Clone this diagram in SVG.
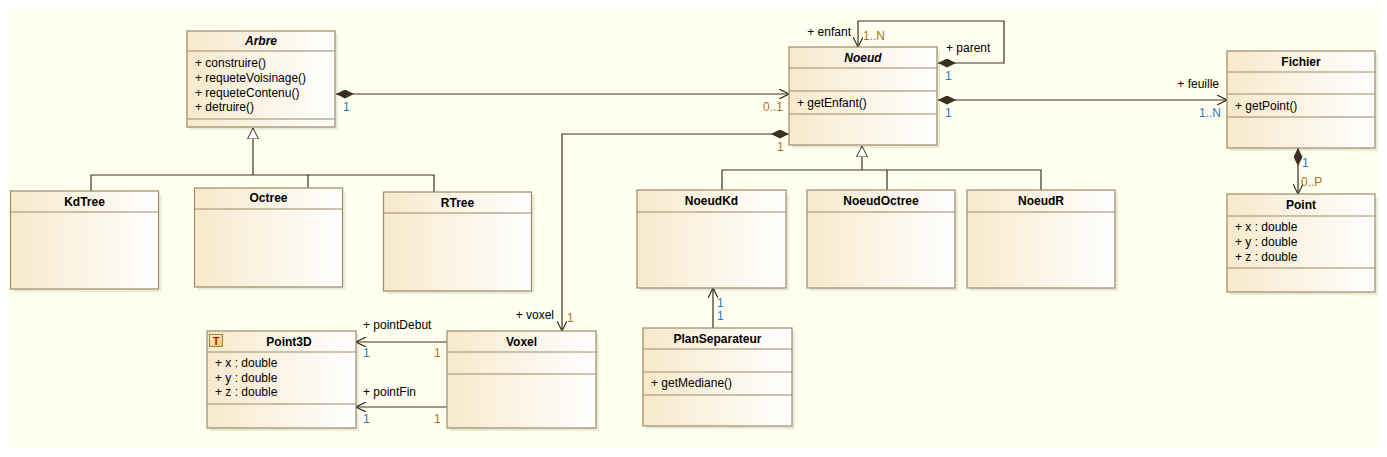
<svg xmlns="http://www.w3.org/2000/svg" width="1387" height="457" viewBox="0 0 1387 457">
<style>
text{font-family:"Liberation Sans",Arial,sans-serif;font-size:12px;fill:#000}
.t{font-weight:bold;font-size:12px;text-anchor:middle}
.ti{font-weight:bold;font-style:italic;font-size:12px;text-anchor:middle}
.b{fill:url(#g);stroke:#9c8a64;stroke-width:1.2}
.sh{fill:#000;opacity:0.08}
.s{stroke:#9c8a64;stroke-width:1}
.c{fill:none;stroke:#3a3020;stroke-width:1.2}
.bl{fill:#2a76c6}
.or{fill:#b0701a}
.e{text-anchor:end}
</style>
<defs>
<linearGradient id="g" x1="0" y1="0" x2="1" y2="0">
<stop offset="0" stop-color="#f7e9cc"/>
<stop offset="1" stop-color="#ffffff"/>
</linearGradient>
<linearGradient id="ig" x1="0" y1="0" x2="1" y2="1">
<stop offset="0" stop-color="#fff8d0"/>
<stop offset="1" stop-color="#e8c860"/>
</linearGradient>
<marker id="open" viewBox="0 0 10 10" refX="10" refY="5" markerWidth="10" markerHeight="10" markerUnits="userSpaceOnUse" orient="auto">
<path d="M0,0 L10,5 L0,10" fill="none" stroke="#3a3020" stroke-width="1.2"/>
</marker>
<marker id="dia" viewBox="0 0 18 9" refX="0" refY="4.5" markerWidth="18" markerHeight="9" markerUnits="userSpaceOnUse" orient="auto">
<path d="M0,4.5 L9,0 L18,4.5 L9,9 Z" fill="#3a3020"/>
</marker>
<marker id="tri" viewBox="0 0 12 12" refX="11" refY="6" markerWidth="12" markerHeight="12" markerUnits="userSpaceOnUse" orient="auto">
<path d="M0,0.5 L11,6 L0,11.5 Z" fill="#ffffff" stroke="#3a3020" stroke-width="1"/>
</marker>
</defs>
<rect x="0" y="0" width="1387" height="457" fill="#ffffff"/>
<rect x="8" y="8" width="1371" height="441" fill="#fffff0"/>

<g id="connectors">
<path class="c" d="M91,191 V175 H434 V192 M308,175 V188 M253,175 V128" marker-end="url(#tri)"/>
<path class="c" d="M722,190 V170 H1041 V190 M887,170 V190 M862,170 V146" marker-end="url(#tri)"/>
<path class="c" d="M336,94 H789" marker-start="url(#dia)" marker-end="url(#open)"/>
<path class="c" d="M938,63 H1004 V21 H858 V47" marker-start="url(#dia)" marker-end="url(#open)"/>
<path class="c" d="M938,100 H1227" marker-start="url(#dia)" marker-end="url(#open)"/>
<path class="c" d="M789,134 H562 V331" marker-start="url(#dia)" marker-end="url(#open)"/>
<path class="c" d="M1298,148 V194" marker-start="url(#dia)" marker-end="url(#open)"/>
<path class="c" d="M447,342 H356" marker-end="url(#open)"/>
<path class="c" d="M447,407 H356" marker-end="url(#open)"/>
<path class="c" d="M713,328 V288" marker-end="url(#open)"/>

<text x="343" y="111" class="bl">1</text>
<text x="783" y="111" class="or e">0..1</text>
<text x="851" y="36" class="e">+ enfant</text>
<text x="863" y="40" class="or">1..N</text>
<text x="946" y="52">+ parent</text>
<text x="945" y="80" class="bl">1</text>
<text x="945" y="117" class="bl">1</text>
<text x="1219" y="88" class="e">+ feuille</text>
<text x="1221" y="117" class="bl e">1..N</text>
<text x="777" y="151" class="or">1</text>
<text x="554" y="319" class="e">+ voxel</text>
<text x="567" y="322" class="or">1</text>
<text x="1302" y="167" class="bl">1</text>
<text x="1301" y="186" class="or">0..P</text>
<text x="363" y="329">+ pointDebut</text>
<text x="363" y="357" class="bl">1</text>
<text x="434" y="357" class="or">1</text>
<text x="363" y="396">+ pointFin</text>
<text x="363" y="423" class="bl">1</text>
<text x="434" y="423" class="or">1</text>
<text x="717" y="307" class="bl">1</text>
<text x="717" y="320" class="bl">1</text>
</g>

<g id="Arbre">
<rect class="sh" x="190" y="34" width="148" height="96"/>
<rect class="b" x="187" y="31" width="148" height="96"/>
<line class="s" x1="187" y1="51" x2="335" y2="51"/>
<line class="s" x1="187" y1="119" x2="335" y2="119"/>
<text x="261" y="45" class="ti">Arbre</text>
<text x="195" y="67">+ construire()</text>
<text x="195" y="82">+ requeteVoisinage()</text>
<text x="195" y="97">+ requeteContenu()</text>
<text x="195" y="111">+ detruire()</text>
</g>

<g id="KdTree">
<rect class="sh" x="13.5" y="194" width="148" height="98"/>
<rect class="b" x="10.5" y="191" width="148" height="98"/>
<line class="s" x1="10.5" y1="212" x2="158.5" y2="212"/>
<text x="84.5" y="206" class="t">KdTree</text>
</g>

<g id="Octree">
<rect class="sh" x="197.5" y="191" width="148" height="99"/>
<rect class="b" x="194.5" y="188" width="148" height="99"/>
<line class="s" x1="194.5" y1="209" x2="342.5" y2="209"/>
<text x="268.5" y="202" class="t">Octree</text>
</g>

<g id="RTree">
<rect class="sh" x="386.5" y="195" width="148" height="99"/>
<rect class="b" x="383.5" y="192" width="148" height="99"/>
<line class="s" x1="383.5" y1="213" x2="531.5" y2="213"/>
<text x="457.5" y="207" class="t">RTree</text>
</g>

<g id="Noeud">
<rect class="sh" x="792" y="50" width="148" height="98"/>
<rect class="b" x="789" y="47" width="148" height="98"/>
<line class="s" x1="789" y1="68" x2="937" y2="68"/>
<line class="s" x1="789" y1="91" x2="937" y2="91"/>
<line class="s" x1="789" y1="114" x2="937" y2="114"/>
<text x="863" y="62" class="ti">Noeud</text>
<text x="797" y="107">+ getEnfant()</text>
</g>

<g id="Fichier">
<rect class="sh" x="1230" y="54" width="148" height="97"/>
<rect class="b" x="1227" y="51" width="148" height="97"/>
<line class="s" x1="1227" y1="72" x2="1375" y2="72"/>
<line class="s" x1="1227" y1="94" x2="1375" y2="94"/>
<line class="s" x1="1227" y1="117" x2="1375" y2="117"/>
<text x="1301" y="66" class="t">Fichier</text>
<text x="1235" y="110">+ getPoint()</text>
</g>

<g id="Point">
<rect class="sh" x="1230" y="197" width="148" height="98"/>
<rect class="b" x="1227" y="194" width="148" height="98"/>
<line class="s" x1="1227" y1="216" x2="1375" y2="216"/>
<line class="s" x1="1227" y1="268" x2="1375" y2="268"/>
<text x="1301" y="209" class="t">Point</text>
<text x="1235" y="231">+ x : double</text>
<text x="1235" y="246">+ y : double</text>
<text x="1235" y="261">+ z : double</text>
</g>

<g id="NoeudKd">
<rect class="sh" x="640" y="193" width="149" height="98"/>
<rect class="b" x="637" y="190" width="149" height="98"/>
<line class="s" x1="637" y1="212" x2="786" y2="212"/>
<text x="711.5" y="205" class="t">NoeudKd</text>
</g>

<g id="NoeudOctree">
<rect class="sh" x="810" y="193" width="148" height="98"/>
<rect class="b" x="807" y="190" width="148" height="98"/>
<line class="s" x1="807" y1="212" x2="955" y2="212"/>
<text x="881" y="205" class="t">NoeudOctree</text>
</g>

<g id="NoeudR">
<rect class="sh" x="970" y="193" width="148" height="98"/>
<rect class="b" x="967" y="190" width="148" height="98"/>
<line class="s" x1="967" y1="212" x2="1115" y2="212"/>
<text x="1041" y="205" class="t">NoeudR</text>
</g>

<g id="PlanSeparateur">
<rect class="sh" x="646" y="331" width="149" height="98"/>
<rect class="b" x="643" y="328" width="149" height="98"/>
<line class="s" x1="643" y1="349" x2="792" y2="349"/>
<line class="s" x1="643" y1="372" x2="792" y2="372"/>
<line class="s" x1="643" y1="395" x2="792" y2="395"/>
<text x="717.5" y="343" class="t">PlanSeparateur</text>
<text x="651" y="387">+ getMediane()</text>
</g>

<g id="Voxel">
<rect class="sh" x="450" y="334" width="149" height="97"/>
<rect class="b" x="447" y="331" width="149" height="97"/>
<line class="s" x1="447" y1="352" x2="596" y2="352"/>
<line class="s" x1="447" y1="374" x2="596" y2="374"/>
<text x="521.5" y="346" class="t">Voxel</text>
</g>

<g id="Point3D">
<rect class="sh" x="210" y="334" width="149" height="97"/>
<rect class="b" x="207" y="331" width="149" height="97"/>
<line class="s" x1="207" y1="352" x2="356" y2="352"/>
<line class="s" x1="207" y1="404" x2="356" y2="404"/>
<rect x="209.5" y="334.5" width="13" height="12" fill="url(#ig)" stroke="#a08040" stroke-width="1"/>
<text x="216" y="345" style="font-weight:bold;font-size:11px;fill:#d01010;text-anchor:middle">T</text>
<text x="289" y="346" class="t">Point3D</text>
<text x="215" y="367">+ x : double</text>
<text x="215" y="382">+ y : double</text>
<text x="215" y="396">+ z : double</text>
</g>
</svg>
